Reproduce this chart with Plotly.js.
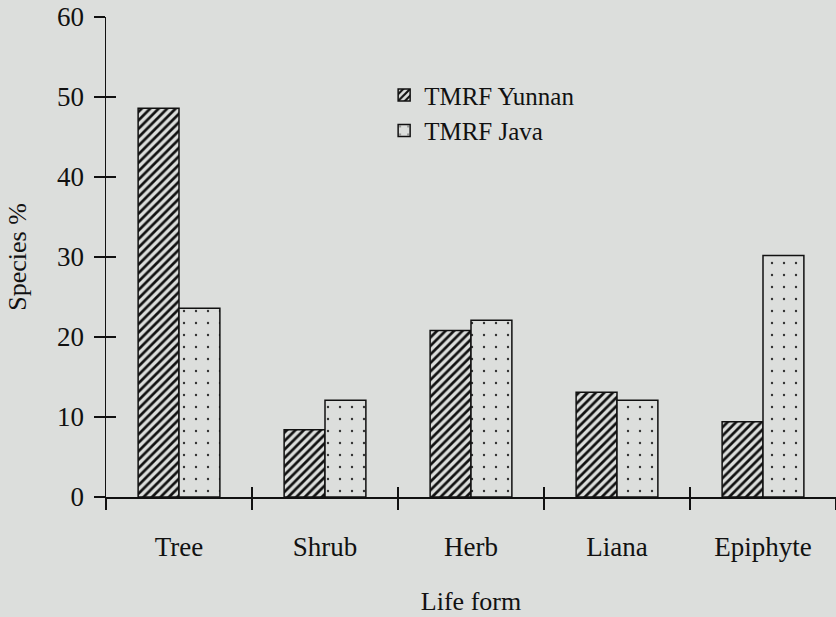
<!DOCTYPE html>
<html>
<head>
<meta charset="utf-8">
<script src="https://cdn.plot.ly/plotly-3.0.1.min.js"></script>
<style>
  html, body { margin: 0; padding: 0; background: #dcdedc; }
  #chart { width: 836px; height: 617px; }
</style>
</head>
<body>
<div id="chart"></div>
<script>
// life forms along the x axis
const lifeForms = ['Tree', 'Shrub', 'Herb', 'Liana', 'Epiphyte'];
// species %
const yunnanPct = [48.6, 8.4, 20.8, 13.1, 9.4];
const javaPct = [23.6, 12.1, 22.1, 12.1, 30.2];
const yTicks = [0, 10, 20, 30, 40, 50, 60];

const bg = '#dcdedc';
const serif = '"Liberation Serif", "Times New Roman", serif';

const traces = [
  {
    type: 'bar',
    name: 'TMRF Yunnan',
    x: lifeForms,
    y: yunnanPct,
    marker: {
      color: bg,
      line: { color: '#111', width: 1.5 },
      pattern: { shape: '/', fgcolor: '#111', bgcolor: bg, size: 6, solidity: 0.45, fillmode: 'replace' }
    }
  },
  {
    type: 'bar',
    name: 'TMRF Java',
    x: lifeForms,
    y: javaPct,
    marker: {
      color: bg,
      line: { color: '#111', width: 1.5 },
      pattern: { shape: '.', fgcolor: '#333', bgcolor: bg, size: 12, solidity: 0.03, fillmode: 'replace' }
    }
  },
  // carrier for the overlaid axes that draw the inner half of each tick
  {
    type: 'scatter',
    mode: 'none',
    x: lifeForms,
    y: javaPct,
    xaxis: 'x2',
    yaxis: 'y2',
    showlegend: false,
    hoverinfo: 'skip'
  }
];

const layout = {
  width: 836,
  height: 617,
  paper_bgcolor: bg,
  plot_bgcolor: bg,
  font: { family: serif, size: 26, color: '#111' },
  margin: { l: 106, r: 0, t: 17, b: 120 },
  barmode: 'group',
  bargap: 0.44,
  bargroupgap: 0,
  showlegend: true,
  legend: {
    x: 0.381, y: 0.885, xanchor: 'left', yanchor: 'top',
    bgcolor: 'rgba(0,0,0,0)',
    font: { family: serif, size: 25 },
    tracegroupgap: 0,
    itemwidth: 30
  },
  xaxis: {
    type: 'category',
    range: [-0.5, 4.5],
    tickson: 'boundaries',
    ticks: 'outside',
    ticklen: 11,
    tickwidth: 1.5,
    tickcolor: '#111',
    showline: true,
    linecolor: '#111',
    linewidth: 1.5,
    showgrid: false,
    ticklabelstandoff: 25,
    tickfont: { family: serif, size: 27 },
    title: { text: 'Life form', font: { family: serif, size: 26 }, standoff: 31 }
  },
  yaxis: {
    range: [0, 60],
    tickvals: yTicks,
    ticks: 'outside',
    ticklen: 11,
    tickwidth: 1.5,
    tickcolor: '#111',
    showline: true,
    linecolor: '#111',
    linewidth: 1.5,
    showgrid: false,
    zeroline: false,
    ticklabelstandoff: 4,
    tickfont: { family: serif, size: 27 },
    title: { text: 'Species %', font: { family: serif, size: 26 }, standoff: 23 }
  },
  xaxis2: {
    type: 'category',
    overlaying: 'x',
    range: [-0.5, 4.5],
    tickson: 'boundaries',
    ticks: 'inside',
    ticklen: 10,
    tickwidth: 1.5,
    tickcolor: '#111',
    showticklabels: false,
    showline: false,
    showgrid: false
  },
  yaxis2: {
    overlaying: 'y',
    range: [0, 60],
    tickvals: yTicks,
    ticks: 'inside',
    ticklen: 10,
    tickwidth: 1.5,
    tickcolor: '#111',
    showticklabels: false,
    showline: false,
    showgrid: false,
    zeroline: false
  }
};

Plotly.newPlot('chart', traces, layout, { displayModeBar: false, staticPlot: true });
</script>
</body>
</html>
